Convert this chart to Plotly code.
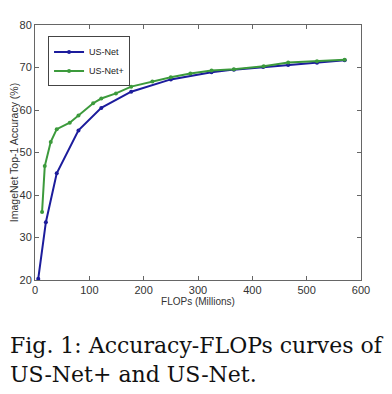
import plotly.graph_objects as go

usnet_flops = [6, 20, 40, 80, 122, 177, 250, 325, 366, 420, 466, 519, 570]
usnet_acc = [20.3, 33.6, 45.1, 55.2, 60.5, 64.3, 67.2, 68.9, 69.5, 70.1, 70.6, 71.1, 71.7]

usnetp_flops = [13, 18, 29, 40, 64, 80, 107, 122, 149, 177, 216, 250, 286, 325, 366, 421, 466, 519, 570]
usnetp_acc = [36.0, 46.8, 52.5, 55.5, 57.0, 58.7, 61.6, 62.7, 63.9, 65.5, 66.7, 67.7, 68.6, 69.3, 69.6, 70.3, 71.2, 71.5, 71.8]

x_ticks = [0, 100, 200, 300, 400, 500, 600]
y_ticks = [20, 30, 40, 50, 60, 70, 80]

fig = go.Figure()
fig.add_trace(go.Scatter(x=usnet_flops, y=usnet_acc, mode="lines+markers", name="US-Net",
                         line=dict(color="#1c1c9c", width=2), marker=dict(size=4, color="#1c1c9c")))
fig.add_trace(go.Scatter(x=usnetp_flops, y=usnetp_acc, mode="lines+markers", name="US-Net+",
                         line=dict(color="#3c9a3c", width=2), marker=dict(size=4, color="#3c9a3c")))

axis_common = dict(showline=True, linecolor="#666666", linewidth=1, mirror="ticks", ticks="inside",
                   ticklen=4, tickcolor="#666666", showgrid=False, zeroline=False, automargin=False,
                   tickfont=dict(family="Liberation Sans, Arial", size=11, color="#333333"))
fig.update_xaxes(range=[0, 600], tickvals=x_ticks,
                 title=dict(text="FLOPs (Millions)", font=dict(family="Liberation Sans, Arial", size=10, color="#333333"), standoff=0),
                 **axis_common)
fig.update_yaxes(range=[20, 80], tickvals=y_ticks,
                 title=dict(text="ImageNet Top-1 Accuracy (%)", font=dict(family="Liberation Sans, Arial", size=10.5, color="#333333"), standoff=2),
                 **axis_common)

fig.update_layout(
    width=392, height=394,
    margin=dict(l=27, r=39, t=17, b=122),
    plot_bgcolor="white", paper_bgcolor="white",
    showlegend=True,
    legend=dict(x=0.04, y=0.955, xanchor="left", yanchor="top", bgcolor="white",
                bordercolor="#444444", borderwidth=1,
                font=dict(family="Liberation Sans, Arial", size=9, color="#222222"),
                tracegroupgap=0, itemwidth=30),
    annotations=[dict(text="Fig. 1: Accuracy-FLOPs curves of<br>US-Net+ and US-Net.",
                      xref="paper", yref="paper", x=-0.083, y=-0.2, xanchor="left", yanchor="top",
                      showarrow=False, align="left",
                      font=dict(family="DejaVu Serif", size=22, color="#111111"))],
)

fig.write_html("out.html")
